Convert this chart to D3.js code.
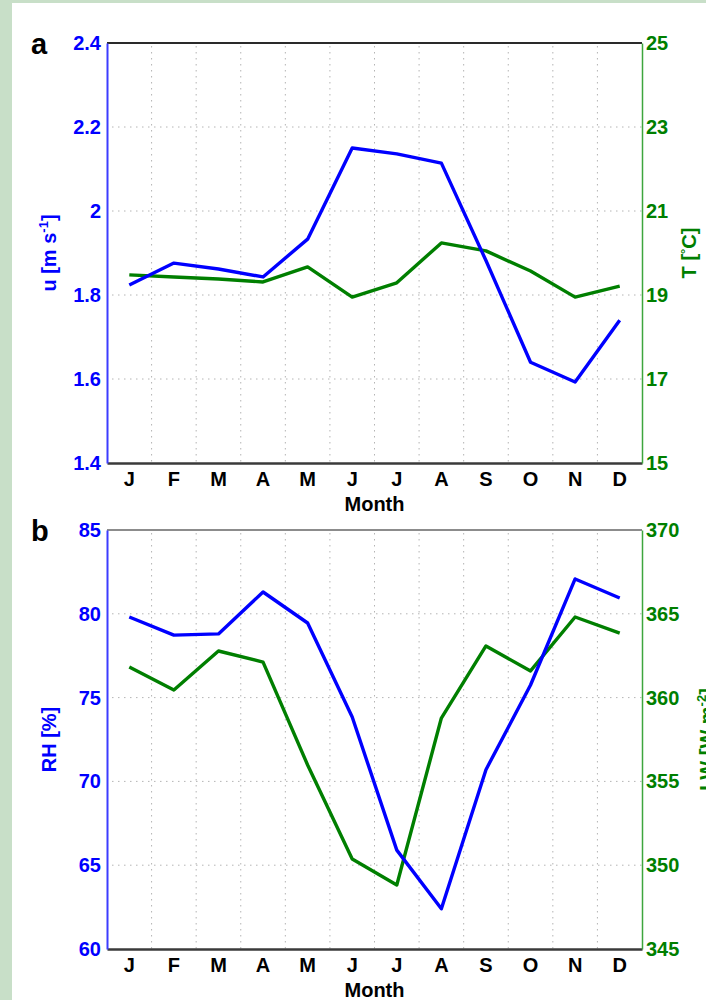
<!DOCTYPE html>
<html>
<head>
<meta charset="utf-8">
<script src="https://cdn.jsdelivr.net/npm/d3@7"></script>
<style>
  html, body { margin: 0; padding: 0; background: #ffffff; }
  svg { display: block; }
  text { font-family: "Liberation Sans", Arial, sans-serif; font-weight: bold; }
</style>
</head>
<body>
<svg id="chart" width="706" height="1000"></svg>
<script>
// Monthly climatology: wind speed / air temperature (a), humidity / longwave (b)
const months = ["J", "F", "M", "A", "M", "J", "J", "A", "S", "O", "N", "D"];

const windSpeed = [1.824, 1.876, 1.862, 1.843, 1.933, 2.150, 2.136, 2.114, 1.882, 1.640, 1.593, 1.740];
const airTemp   = [19.48, 19.43, 19.38, 19.31, 19.67, 18.95, 19.29, 20.24, 20.05, 19.57, 18.95, 19.21];

const relHumidity = [79.81, 78.73, 78.80, 81.30, 79.45, 73.84, 65.90, 62.40, 70.70, 75.75, 82.08, 80.94];
const longwave    = [361.83, 360.45, 362.78, 362.12, 355.98, 350.37, 348.82, 358.78, 363.08, 361.59, 364.81, 363.85];

const windTicks = [1.4, 1.6, 1.8, 2, 2.2, 2.4];
const tempTicks = [15, 17, 19, 21, 23, 25];
const rhTicks   = [60, 65, 70, 75, 80, 85];
const lwTicks   = [345, 350, 355, 360, 365, 370];

const BLUE = "#0000ff";
const GREEN = "#007f00";

const svg = d3.select("#chart");

// page backdrop: sage strip on the left and top edges
svg.append("rect").attr("x", 0).attr("y", 0).attr("width", 706).attr("height", 1000).attr("fill", "#c8dfc8");
svg.append("rect").attr("x", 12).attr("y", 3).attr("width", 694).attr("height", 997).attr("fill", "#ffffff");

const plotLeft = 107, plotRight = 642;
const idx = d3.range(months.length);
const x = d3.scaleBand().domain(idx).range([plotLeft, plotRight]).padding(0);
const cx = i => x(i) + x.bandwidth() / 2;

function panel(opts) {
  const { top, bottom, leftVals, rightVals, leftDomain, rightDomain,
          leftTicks, rightTicks, letter, leftLabel, rightLabel, rightLabelX,
          frameColor, frameWidth } = opts;
  const g = svg.append("g");
  const yL = d3.scaleLinear().domain(leftDomain).range([bottom, top]);
  const yR = d3.scaleLinear().domain(rightDomain).range([bottom, top]);

  // dotted grid: band boundaries vertically, interior ticks horizontally
  const grid = g.append("g").attr("stroke", "#b4b4b4").attr("stroke-width", 1)
    .attr("stroke-dasharray", "1.5,4.5");
  grid.selectAll("line.v").data(idx.slice(1)).join("line").attr("class", "v")
    .attr("x1", d => x(d)).attr("x2", d => x(d))
    .attr("y1", top + 3).attr("y2", bottom);
  grid.selectAll("line.h").data(leftTicks.slice(1, -1)).join("line").attr("class", "h")
    .attr("x1", plotLeft + 5).attr("x2", plotRight)
    .attr("y1", d => yL(d)).attr("y2", d => yL(d));

  // top frame
  g.append("line").attr("x1", plotLeft).attr("x2", plotRight).attr("y1", top).attr("y2", top)
    .attr("stroke", frameColor).attr("stroke-width", frameWidth);

  const xAxis = g.append("g").attr("transform", `translate(0,${bottom})`)
    .call(d3.axisBottom(x).tickSize(0).tickPadding(14).tickFormat(i => months[i]));
  xAxis.select(".domain").attr("stroke", "#3a3a3a").attr("stroke-width", 2.5);
  xAxis.selectAll("text").attr("fill", "#000").attr("font-size", 20)
    .attr("dy", "0.71em").attr("y", 9);

  const leftAxis = g.append("g").attr("transform", `translate(${plotLeft},0)`)
    .call(d3.axisLeft(yL).tickValues(leftTicks).tickSize(0).tickPadding(6).tickFormat(d => String(d)));
  leftAxis.select(".domain").attr("stroke", "#3c3cff").attr("stroke-width", 2);
  leftAxis.selectAll("text").attr("fill", BLUE).attr("font-size", 20);

  const rightAxis = g.append("g").attr("transform", `translate(${plotRight},0)`)
    .call(d3.axisRight(yR).tickValues(rightTicks).tickSize(0).tickPadding(4).tickFormat(d => String(d)));
  rightAxis.select(".domain").attr("stroke", "#3da63d").attr("stroke-width", 1.5);
  rightAxis.selectAll("text").attr("fill", GREEN).attr("font-size", 20);

  // series
  const lineL = d3.line().x((d, i) => cx(i)).y(d => yL(d));
  const lineR = d3.line().x((d, i) => cx(i)).y(d => yR(d));
  g.append("path").datum(rightVals).attr("d", lineR).attr("fill", "none")
    .attr("stroke", GREEN).attr("stroke-width", 3.4).attr("stroke-linejoin", "round");
  g.append("path").datum(leftVals).attr("d", lineL).attr("fill", "none")
    .attr("stroke", BLUE).attr("stroke-width", 3.4).attr("stroke-linejoin", "round");

  // x title
  g.append("text").attr("x", (plotLeft + plotRight) / 2).attr("y", bottom + 48)
    .attr("text-anchor", "middle").attr("font-size", 20).attr("fill", "#000").text("Month");

  // panel letter
  g.append("text").attr("x", 31).attr("y", top + 11).attr("font-size", 29).attr("fill", "#000").text(letter);

  // axis titles
  const mid = (top + bottom) / 2;
  const lt = g.append("text").attr("transform", `translate(56,${mid}) rotate(-90)`)
    .attr("text-anchor", "middle").attr("font-size", 20).attr("fill", BLUE);
  leftLabel(lt);
  const rt = g.append("text").attr("transform", `translate(${rightLabelX},${mid}) rotate(-90)`)
    .attr("text-anchor", "middle").attr("font-size", 20).attr("fill", GREEN);
  rightLabel(rt);
}

panel({
  top: 43, bottom: 463,
  leftVals: windSpeed, rightVals: airTemp,
  leftDomain: [1.4, 2.4], rightDomain: [15, 25],
  leftTicks: windTicks, rightTicks: tempTicks,
  letter: "a",
  frameColor: "#2a2a2a", frameWidth: 2,
  leftLabel: t => {
    t.append("tspan").text("u [m s");
    t.append("tspan").attr("font-size", 13).attr("dy", -8).text("-1");
    t.append("tspan").attr("dy", 8).text("]");
  },
  rightLabel: t => {
    t.append("tspan").text("T [");
    t.append("tspan").attr("font-size", 13).attr("dy", -6).text("°");
    t.append("tspan").attr("dy", 6).text("C]");
  },
  rightLabelX: 696
});

panel({
  top: 530, bottom: 949,
  leftVals: relHumidity, rightVals: longwave,
  leftDomain: [60, 85], rightDomain: [345, 370],
  leftTicks: rhTicks, rightTicks: lwTicks,
  letter: "b",
  frameColor: "#666666", frameWidth: 1.5,
  leftLabel: t => { t.text("RH [%]"); },
  rightLabel: t => {
    t.append("tspan").text("LW [W m");
    t.append("tspan").attr("font-size", 13).attr("dy", -8).text("-2");
    t.append("tspan").attr("dy", 8).text("]");
  },
  rightLabelX: 714
});
</script>
</body>
</html>
